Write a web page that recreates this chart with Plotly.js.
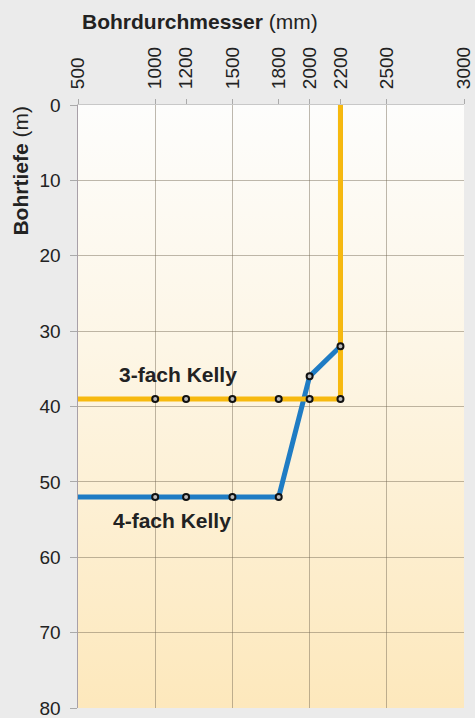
<!DOCTYPE html>
<html>
<head>
<meta charset="utf-8">
<script src="https://cdn.plot.ly/plotly-3.0.1.min.js"></script>
<style>
  html, body { margin:0; padding:0; background:#ebebeb; }
  #wrap { position:relative; width:475px; height:718px; }
  #bg { position:absolute; left:78px; top:105px; width:386px; height:603px;
        background: linear-gradient(to bottom, #fdfdfc 0%, #fdf6e6 40%, #fde8bc 100%); }
  #chart { position:absolute; left:0; top:0; width:475px; height:718px; }
</style>
</head>
<body>
<div id="wrap"><div id="bg"></div><div id="chart"></div></div>
<script>
// Data
const xTicks = [500, 1000, 1200, 1500, 1800, 2000, 2200, 2500, 3000];
const yTicks = [0, 10, 20, 30, 40, 50, 60, 70, 80];

const kelly3Diam  = [2200, 2200, 2000, 1800, 1500, 1200, 1000, 500];
const kelly3Depth = [0, 39, 39, 39, 39, 39, 39, 39];
const kelly3Marked = [false, true, true, true, true, true, true, false];

const kelly4Diam  = [2200, 2200, 2000, 1800, 1500, 1200, 1000, 500];
const kelly4Depth = [0, 32, 36, 52, 52, 52, 52, 52];
const kelly4Marked = [false, true, true, true, true, true, true, false];

const labels = ['3-fach Kelly', '4-fach Kelly'];
const labelDiam = [1150, 1110];
const labelDepth = [35.7, 55.1];

const yellow = '#f7b90f';
const blue = '#1f7cc4';

function pick(arr, mask){ return arr.filter((v,i)=>mask[i]); }

const markerStyle = {symbol:'circle', size:6, color:'#bbb', line:{color:'#111', width:2}};
const traces = [
  {x:[500], y:[0], xaxis:'x2', mode:'markers', marker:{opacity:0}, hoverinfo:'skip'},
  { x: kelly4Diam, y: kelly4Depth, mode:'lines', line:{color:blue, width:5}, hoverinfo:'skip' },
  { x: kelly3Diam, y: kelly3Depth, mode:'lines', line:{color:yellow, width:5}, hoverinfo:'skip' },
  { x: pick(kelly3Diam,kelly3Marked), y: pick(kelly3Depth,kelly3Marked), mode:'markers', marker:markerStyle },
  { x: pick(kelly4Diam,kelly4Marked), y: pick(kelly4Depth,kelly4Marked), mode:'markers', marker:markerStyle },
];

const fontFam = 'Liberation Sans, Arial, sans-serif';
const gridCol = 'rgba(110,100,80,0.45)';
const layout = {
  width:475, height:718,
  margin:{l:78, r:11, t:105, b:10},
  paper_bgcolor:'rgba(0,0,0,0)', plot_bgcolor:'rgba(0,0,0,0)',
  showlegend:false,
  font:{family:fontFam, color:'#222', size:19},
  xaxis:{
    side:'top', range:[500,3000], tickmode:'array', tickvals:xTicks,
    ticktext: xTicks.map(String), tickangle:-90, ticklabeloverflow:'allow',
    showgrid:false, zeroline:false, showline:true, linecolor:'#c8c8c8', linewidth:1,
    ticks:'outside', ticklen:5, tickcolor:'#aaa', ticklabelstandoff:6,
    tickfont:{size:19, color:'#222', family:fontFam}
  },
  xaxis2:{
    overlaying:'x', side:'bottom', range:[500,3000], tickmode:'linear', tick0:500, dtick:500,
    showgrid:true, gridcolor:gridCol, gridwidth:1,
    showticklabels:false, ticks:'', zeroline:false, showline:false
  },
  yaxis:{
    range:[80,0], tickmode:'array', tickvals:yTicks, ticktext:yTicks.map(String),
    ticklabeloverflow:'allow',
    showgrid:true, gridcolor:gridCol, gridwidth:1,
    zeroline:false, showline:true, linecolor:'#a8a0a8', linewidth:1.5,
    ticks:'outside', ticklen:7, tickcolor:'#aaa', ticklabelstandoff:5,
    tickfont:{size:19, color:'#222', family:fontFam}
  },
  annotations:[
    { xref:'paper', yref:'paper', x:0.005, y:1.138, xanchor:'left', yanchor:'middle', showarrow:false,
      text:'<b>Bohrdurchmesser</b> (mm)', font:{size:21, color:'#222', family:fontFam} },
    { xref:'paper', yref:'paper', x:-0.149, y:0.892, xanchor:'center', yanchor:'middle', showarrow:false,
      textangle:-90, text:'<b>Bohrtiefe</b> (m)', font:{size:21, color:'#222', family:fontFam} },
  ].concat(labels.map((t,i)=>({
      xref:'x', yref:'y', x:labelDiam[i], y:labelDepth[i], xanchor:'center', yanchor:'middle', showarrow:false,
      text:'<b>'+t+'</b>', font:{size:21, color:'#222', family:fontFam}
  })))
};

Plotly.newPlot('chart', traces, layout, {staticPlot:true});
</script>
</body>
</html>
